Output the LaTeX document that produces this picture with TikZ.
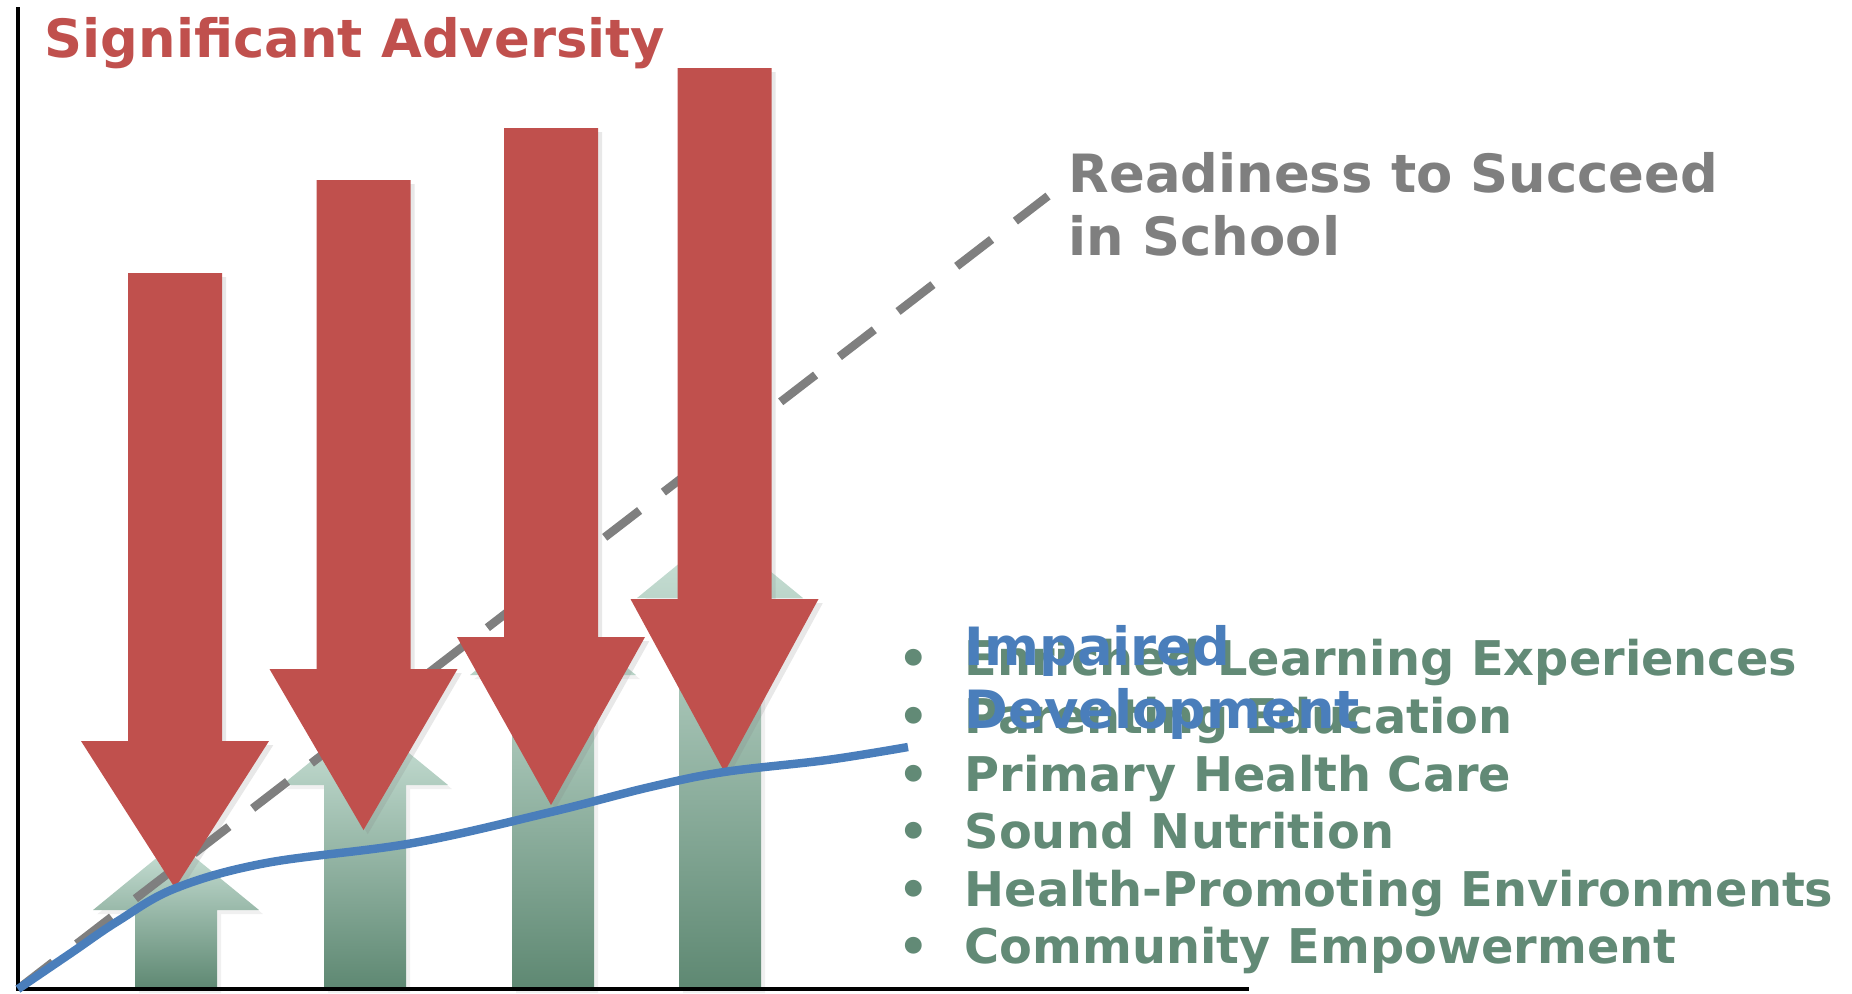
\documentclass[tikz,border=0pt]{standalone}
\usepackage{fontspec}
\setmainfont{DejaVu Sans}
\usepackage{tikz}
\usetikzlibrary{shadows}
\definecolor{advred}{HTML}{C0504D}
\definecolor{protdark}{HTML}{5E8872}
\definecolor{protlight}{HTML}{CCE3D9}
\definecolor{linegray}{HTML}{7F7F7F}
\definecolor{devblue}{HTML}{4A7EBB}
\definecolor{listgreen}{HTML}{628A76}
\tikzset{
  adv/.style={fill=advred, drop shadow={opacity=0.18, shadow xshift=1.2pt, shadow yshift=-1.2pt}},
  prot/.style={top color=protlight, bottom color=protdark, drop shadow={opacity=0.12, shadow xshift=1.2pt, shadow yshift=-1.2pt}},
  big/.style={font=\fontsize{15}{18}\selectfont\bfseries, inner sep=0pt, anchor=base west},
  small/.style={font=\fontsize{13.6}{16}\selectfont\bfseries, inner sep=0pt, text=listgreen, anchor=base west}
}
\newcommand{\advarrow}[4]{\path[adv] (#1-47,#2) -- (#1+47,#2) -- (#1+47,#3) -- (#1+94,#3) -- (#1,#4) -- (#1-94,#3) -- (#1-47,#3) -- cycle;}
\newcommand{\protarrow}[3]{\path[prot] (#1-41,989) -- (#1-41,#2) -- (#1-83,#2) -- (#1,#3) -- (#1+83,#2) -- (#1+41,#2) -- (#1+41,989) -- cycle;}
\newcommand{\listitem}[1]{\llap{\textbullet\hspace{0.36cm}}#1}

\begin{document}
\begin{tikzpicture}[x=0.01cm, y=-0.01cm]
		\useasboundingbox (0,0) rectangle (1852,993);

		\coordinate (origin) at (18,989);
		\coordinate (ytop)   at (18,7);
		\coordinate (xend)   at (1249,989);
		\coordinate (ready)  at (1048,196);

		\protarrow{176}{910}{842}
		\protarrow{365}{785}{717}
		\protarrow{553}{675}{607}
		\protarrow{720}{598}{530}

		\draw[linegray, line width=2.4pt, dash pattern=on 0.44cm off 0.3cm] (origin) -- (ready);

		\advarrow{175}{273}{741}{888}
		\advarrow{363.5}{180}{669}{830}
		\advarrow{551}{128}{637}{805}
		\advarrow{724.5}{68}{599}{772}

		\draw[line width=1.1pt] (ytop) -- (origin) -- (xend);

		\draw[devblue, line width=2.4pt] plot[smooth, tension=0.6] coordinates {(origin) (71,953) (118,921) (176,888) (266,863) (413,843) (551,812) (650,787) (724,772) (827,760) (908,747)};

		\node[big, text=advred] (title) at (44,57) {Significant Adversity};
		\node[big, text=linegray] (readiness) at (1068,192) {Readiness to Succeed};
		\node[big, text=linegray] (school) at (1068,255) {in School};

		\node[small] (enriched)  at (964,675) {\listitem{Enriched Learning Experiences}};
		\node[small] (parenting) at (964,733) {\listitem{Parenting Education}};
		\node[small] (primary)   at (964,791) {\listitem{Primary Health Care}};
		\node[small] (nutrition) at (964,848) {\listitem{Sound Nutrition}};
		\node[small] (environ)   at (964,906) {\listitem{Health-Promoting Environments}};
		\node[small] (community) at (964,963) {\listitem{Community Empowerment}};

		\node[big, text=devblue] (impaired) at (964,665) {Impaired};
		\node[big, text=devblue] (develop)  at (964,728) {Development};
	\end{tikzpicture}
\end{document}
